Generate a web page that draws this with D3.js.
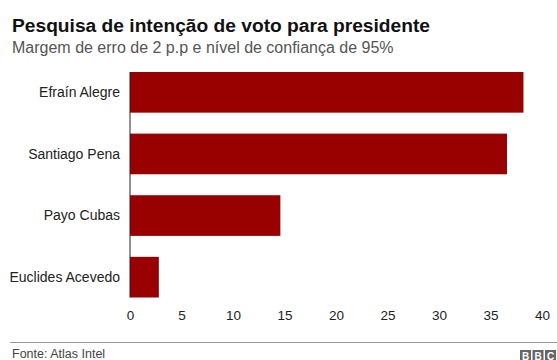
<!DOCTYPE html>
<html><head><meta charset="utf-8">
<script src="https://cdn.jsdelivr.net/npm/d3@7"></script>
<style>body{margin:0;background:#fff}svg{display:block;font-family:"Liberation Sans",Arial,sans-serif}</style>
</head><body>
<svg id="c" width="557" height="360"></svg>
<script>
const categories = ["Efraín Alegre", "Santiago Pena", "Payo Cubas", "Euclides Acevedo"];
const values = [38.2, 36.6, 14.6, 2.8];
const tickValues = [0, 5, 10, 15, 20, 25, 30, 35, 40];
const title = "Pesquisa de intenção de voto para presidente";
const subtitle = "Margem de erro de 2 p.p e nível de confiança de 95%";
const source = "Fonte: Atlas Intel";

const svg = d3.select("#c");
const x = d3.scaleLinear().domain([0, 40]).range([130, 542]);
const y = d3.scaleBand().domain(categories).range([72, 297.5]).paddingInner(0.34).paddingOuter(0);

svg.append("text").attr("x", 12).attr("y", 32).attr("font-size", 19.2).attr("font-weight", "bold").attr("fill", "#111").text(title);
svg.append("text").attr("x", 12).attr("y", 53).attr("font-size", 16).attr("fill", "#555").text(subtitle);

svg.selectAll("rect.bar").data(values).join("rect").attr("class", "bar")
  .attr("x", x(0)).attr("y", (d, i) => y(categories[i]))
  .attr("width", d => x(d) - x(0)).attr("height", y.bandwidth())
  .attr("fill", "#990000");

svg.selectAll("text.cat").data(categories).join("text").attr("class", "cat")
  .attr("x", 120).attr("y", d => y(d) + y.bandwidth() / 2).attr("dy", "0.35em")
  .attr("text-anchor", "end").attr("font-size", 14).attr("fill", "#222").text(d => d);

svg.append("line").attr("x1", x(0)).attr("x2", x(0)).attr("y1", 72).attr("y2", 297.5).attr("stroke", "#222").attr("stroke-width", 1);

const ax = svg.append("g").attr("transform", "translate(0,305)")
  .call(d3.axisBottom(x).tickValues(tickValues).tickSize(0).tickPadding(5));
ax.select(".domain").remove();
ax.selectAll("text").attr("font-size", 13.5).attr("fill", "#222").attr("font-family", "Liberation Sans, Arial, sans-serif");

svg.append("line").attr("x1", 10).attr("x2", 557).attr("y1", 342.5).attr("y2", 342.5).attr("stroke", "#999").attr("stroke-width", 1);
svg.append("text").attr("x", 12).attr("y", 358).attr("font-size", 12.5).attr("fill", "#444").text(source);

const logo = svg.append("g").attr("transform", "translate(520,350)");
["B", "B", "C"].forEach((ch, i) => {
  logo.append("rect").attr("x", i * 12.5).attr("y", 0).attr("width", 11).attr("height", 11).attr("fill", "#666");
  logo.append("text").attr("x", i * 12.5 + 5.5).attr("y", 9.5).attr("text-anchor", "middle").attr("font-size", 10).attr("font-weight", "bold").attr("fill", "#fff").text(ch);
});
</script>
</body></html>
